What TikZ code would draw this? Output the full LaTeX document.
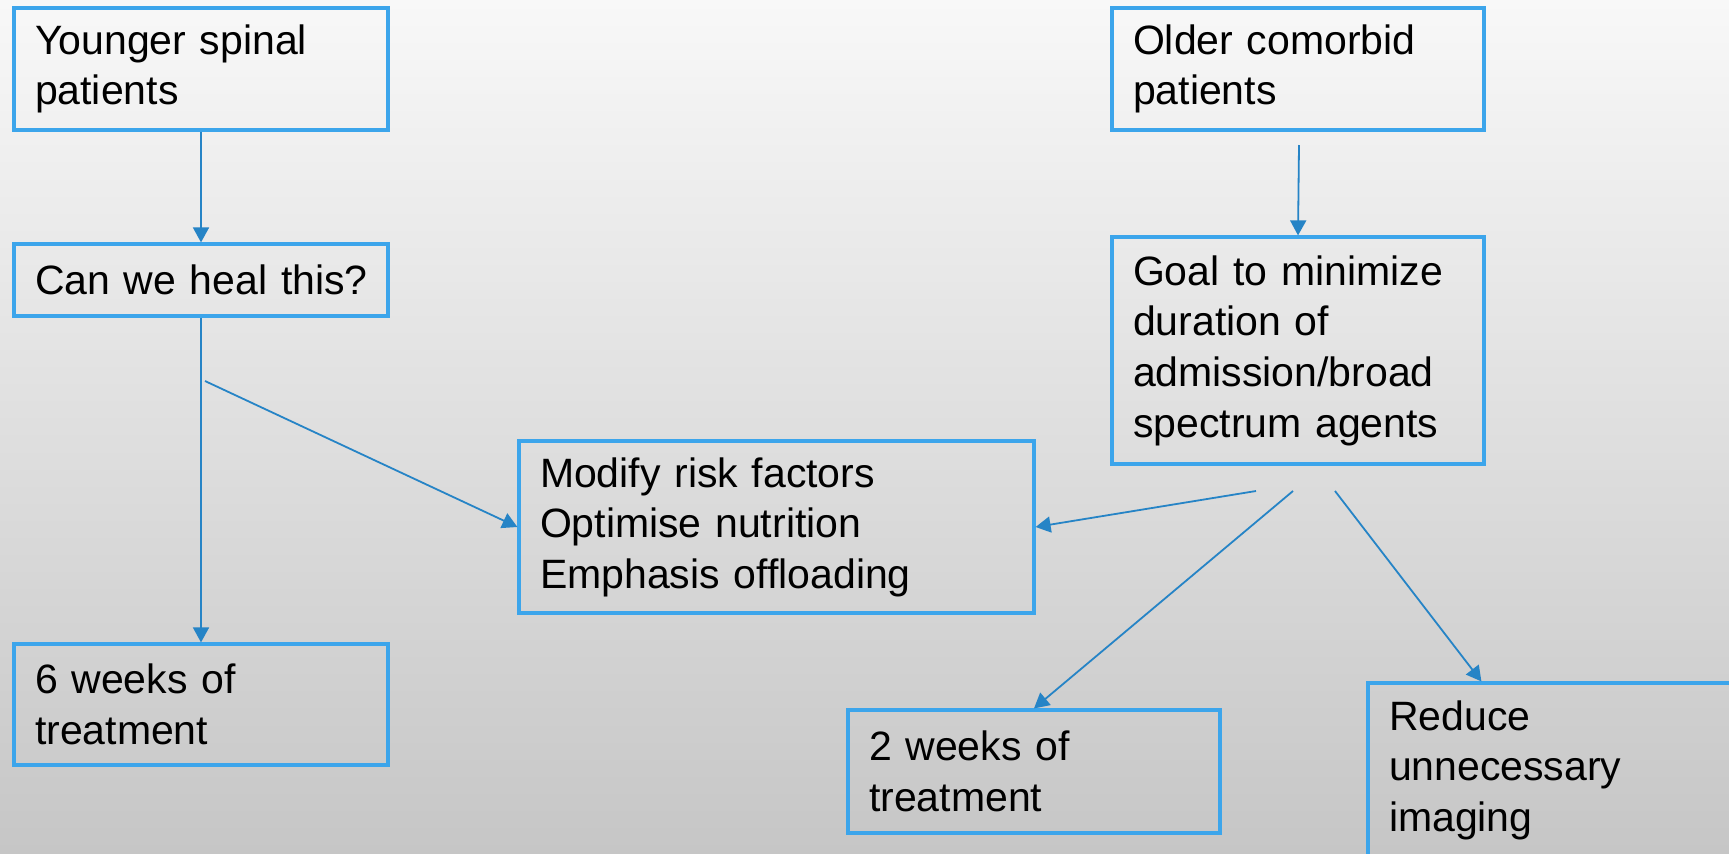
\documentclass[tikz,border=0pt]{standalone}
\usepackage{fontspec}
\setmainfont[WordSpace=0.8]{Liberation Sans}
\usetikzlibrary{arrows.meta}
\definecolor{boxblue}{RGB}{60,165,235}
\definecolor{arrblue}{RGB}{38,132,198}
\definecolor{bgtop}{RGB}{248,248,248}
\definecolor{bgbot}{RGB}{198,198,198}
\tikzset{
  box/.style={draw=boxblue, line width=1.6pt, rectangle, inner xsep=10.5pt, inner ysep=0pt,
    align=left, font=\fontsize{20.5}{25.3}\selectfont, text=black},
  conn/.style={draw=arrblue, line width=0.9pt, -{Triangle[length=7.5pt,width=8pt]}}
}
\begin{document}
\begin{tikzpicture}[x=0.5pt,y=-0.5pt]
\useasboundingbox (0,0) rectangle (1729,853);
\clip (0,0) rectangle (1729,853);
\shade[top color=bgtop, bottom color=bgbot] (0,0) rectangle (1729,853);

\node[box, minimum width=187pt, minimum height=61pt, text width=166pt] (young) at (201,69) {Younger spinal\\patients};
\node[box, minimum width=187pt, minimum height=36pt, text width=166pt] (heal) at (201,280) {\mbox{Can we heal this?}};
\node[box, minimum width=187pt, minimum height=60.5pt, text width=166pt] (six) at (201,704.5) {6 weeks of\\treatment};
\node[box, minimum width=186pt, minimum height=61pt, text width=165pt] (older) at (1298,69) {Older comorbid\\patients};
\node[box, minimum width=186pt, minimum height=113.5pt, text width=165pt] (goal) at (1298,350.5) {Goal to minimize\\duration of\\admission/broad\\spectrum agents};
\node[box, minimum width=257.5pt, minimum height=86pt, text width=236.5pt] (modify) at (776.5,527) {Modify risk factors\\Optimise nutrition\\Emphasis offloading};
\node[box, minimum width=186pt, minimum height=61.5pt, text width=165pt] (two) at (1034,771.5) {2 weeks of\\treatment};
\node[box, minimum width=186pt, minimum height=87pt, text width=165pt] (reduce) at (1554,770) {Reduce\\unnecessary\\imaging};

\coordinate (b1) at (205,381);
\coordinate (o1) at (1299,145);
\coordinate (g1) at (1256,491);
\coordinate (g2) at (1293,491);
\coordinate (g3) at (1335,491);

\draw[conn] (young.south) -- (heal.north);
\draw[conn] (heal.south) -- (six.north);
\draw[conn] (b1) -- (modify.west);
\draw[conn] (o1) -- (goal.north);
\draw[conn] (g1) -- (modify.east);
\draw[conn] (g2) -- (two.north);
\draw[conn] (g3) -- ([xshift=57.5pt]reduce.north west);
\end{tikzpicture}
\end{document}
